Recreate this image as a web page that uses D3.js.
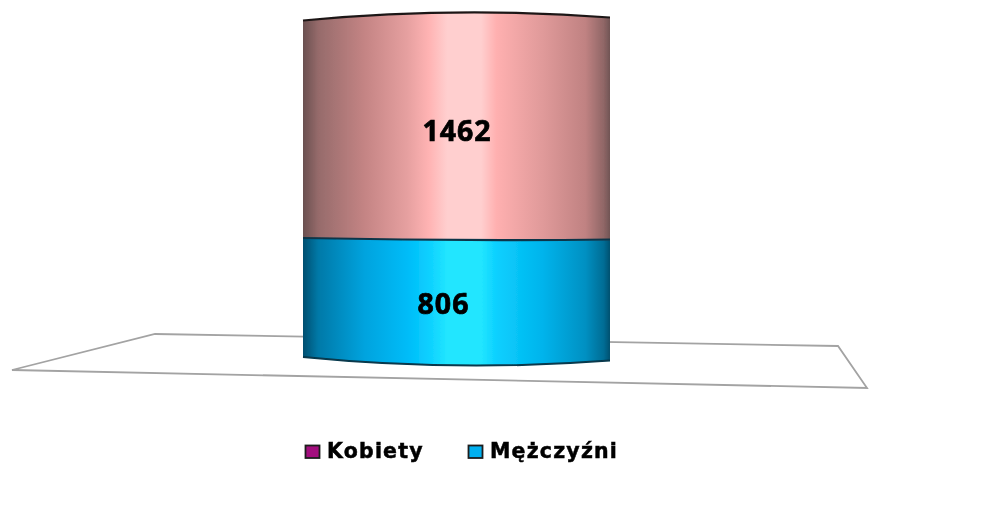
<!DOCTYPE html>
<html lang="en">

<head>
	<meta charset="utf-8">
	<title>Kobiety i Mezczyzni</title>
	<script src="https://d3js.org/d3.v7.min.js"></script>
	<style type="text/css">
		html, body { margin: 0; padding: 0; background: #fff; }
		svg { display: block; }
		text { font-weight: bold; fill: #000; stroke: #000; }
		.value { font-family: "Open Sans", sans-serif; font-weight: 700; font-size: 28.5px; letter-spacing: 1px; stroke-width: 0.7px; }
		.legendText { font-family: "DejaVu Sans", sans-serif; font-size: 20.5px; letter-spacing: 1.2px; stroke-width: 0.5px; }
	</style>
</head>

<body>
	<svg id="placeholder1"></svg>

	<script type="text/javascript">
		//============================================================
		//                          data
		//============================================================
		var categories = ["Razem"]
		var seriesNames = ["Mężczyźni", "Kobiety"]
		var menValues = [806]
		var womenValues = [1462]
		var legendNames = ["Kobiety", "Mężczyźni"]

		//============================================================
		//                          init
		//============================================================
		var wholeW = 1001
		var wholeH = 526

		var legendColor = {"Kobiety": "#a3117e", "Mężczyźni": "#00b0f0"}

		// horizontal shading of the cylinder: offset, colour
		var pinkStops = [[0, "#6a5050"], [0.05, "#966b6b"], [0.2, "#c48484"], [0.34, "#e6a0a0"],
			[0.41, "#ffb3b3"], [0.47, "#ffcfcf"], [0.58, "#ffcfcf"], [0.63, "#ffb0b0"],
			[0.78, "#e09a9a"], [0.92, "#c08282"], [0.98, "#8f6666"], [1, "#705454"]]
		var blueStops = [[0, "#004f70"], [0.05, "#0079a8"], [0.2, "#00a3de"], [0.34, "#00bcf8"],
			[0.41, "#0cd0ff"], [0.47, "#22e6ff"], [0.58, "#22e6ff"], [0.63, "#0cd0ff"],
			[0.78, "#00b4ec"], [0.92, "#0090c2"], [0.98, "#006c94"], [1, "#00506f"]]

		var xScale = d3.scaleBand().domain(categories).range([303, 610]).padding(0)
		var yScale = d3.scaleLinear().domain([0, 2268]).range([356, 22])

		var stackData = [{cat: categories[0], "Mężczyźni": menValues[0], "Kobiety": womenValues[0]}]
		var stacked = d3.stack().keys(seriesNames)(stackData)

		// floor of the 3D plot
		var floorCorners = [[12, 370], [155, 334], [838, 346], [867, 388]]
		var floorLine = d3.line().curve(d3.curveLinearClosed)

		var svg = d3.select("#placeholder1")
			.attr("width", wholeW)
			.attr("height", wholeH)

		var defs = svg.append("defs")

		// the reference is a soft, upscaled picture
		defs.append("filter").attr("id", "soft")
			.attr("filterUnits", "userSpaceOnUse")
			.attr("x", 0).attr("y", 0).attr("width", wholeW).attr("height", wholeH)
			.append("feGaussianBlur").attr("stdDeviation", 0.7)

		function addGradient(id, stops){
			defs.append("linearGradient").attr("id", id)
				.attr("x1", "0").attr("x2", "1").attr("y1", "0").attr("y2", "0")
				.selectAll("stop").data(stops).join("stop")
				.attr("offset", d=>d[0])
				.attr("stop-color", d=>d[1])
		}
		addGradient("grad-men", blueStops)
		addGradient("grad-women", pinkStops)

		var chart = svg.append("g").attr("filter", "url(#soft)")

		//============================================================
		//                          draw
		//============================================================
		chart.append("path")
			.attr("d", floorLine(floorCorners))
			.attr("fill", "none")
			.attr("stroke", "#a3a3a3")
			.attr("stroke-width", 1.8)

		var x0 = xScale(categories[0])
		var x1 = x0 + xScale.bandwidth()
		var xMid = (x0 + x1) / 2

		// curved edges sit a little off the scale: left end, middle, right end
		var baseEdge = {left: 1, mid: 9.5, right: 4.5}
		var middleEdge = {left: 0.7, mid: 2.7, right: 2.2}
		var topEdge = {left: -1.5, mid: -9.5, right: -4.5}

		function ctrlY(y, e){
			return y + (4 * e.mid - e.left - e.right) / 2
		}

		// left to right along an edge
		function edgePath(y, e){
			var p = d3.path()
			p.moveTo(x0, y + e.left)
			p.quadraticCurveTo(xMid, ctrlY(y, e), x1, y + e.right)
			return p.toString()
		}

		function segmentPath(yLow, yHigh, below, above){
			var p = d3.path()
			p.moveTo(x0, yHigh + above.left)
			p.quadraticCurveTo(xMid, ctrlY(yHigh, above), x1, yHigh + above.right)
			p.lineTo(x1, yLow + below.right)
			p.quadraticCurveTo(xMid, ctrlY(yLow, below), x0, yLow + below.left)
			p.closePath()
			return p.toString()
		}

		var women = stacked[1][0]
		var men = stacked[0][0]

		chart.append("path")
			.attr("d", segmentPath(yScale(women[0]), yScale(women[1]), middleEdge, topEdge))
			.attr("fill", "url(#grad-women)")

		chart.append("path")
			.attr("d", segmentPath(yScale(men[0]), yScale(men[1]), baseEdge, middleEdge))
			.attr("fill", "url(#grad-men)")

		chart.append("path")
			.attr("d", edgePath(yScale(women[1]), topEdge))
			.attr("fill", "none").attr("stroke", "#1e1818").attr("stroke-width", 2.2)

		chart.append("path")
			.attr("d", edgePath(yScale(men[1]), middleEdge))
			.attr("fill", "none").attr("stroke", "#0e3648").attr("stroke-width", 2.2)

		chart.append("path")
			.attr("d", edgePath(yScale(men[0]), baseEdge))
			.attr("fill", "none").attr("stroke", "#07384c").attr("stroke-width", 2)

		// value labels, placed by hand beside the bar centre
		var labelPos = {"Mężczyźni": {x: 443.5, dy: 17}, "Kobiety": {x: 457, dy: 11}}
		stacked.forEach((s, i)=>{
			chart.append("text")
				.attr("class", "value")
				.attr("x", labelPos[s.key].x)
				.attr("y", (yScale(s[0][0]) + yScale(s[0][1])) / 2 + labelPos[s.key].dy)
				.attr("text-anchor", "middle")
				.text(i == 0 ? menValues[0] : womenValues[0])
		})

		// legend
		var legendX = d3.scaleOrdinal().domain(legendNames).range([305, 468])
		var legend = chart.selectAll("g.legend").data(legendNames).join("g")
			.attr("class", "legend")
			.attr("transform", d=>"translate(" + legendX(d) + ",446)")

		legend.append("rect")
			.attr("x", 0.5).attr("y", -0.5)
			.attr("width", 14).attr("height", 12.5)
			.attr("fill", d=>legendColor[d])
			.attr("stroke", "#1c1c1c").attr("stroke-width", 1.8)

		legend.append("text")
			.attr("class", "legendText")
			.attr("x", 22).attr("y", 12)
			.text(d=>d)
	</script>
</body>

</html>
